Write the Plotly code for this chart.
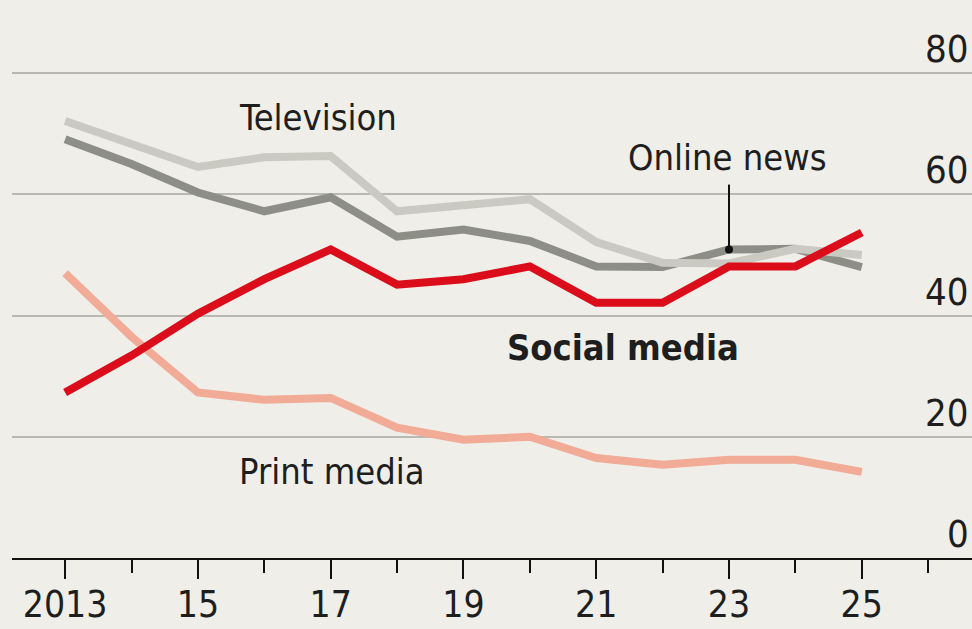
import plotly.graph_objects as go

years = list(range(2013, 2026))
television = [72.1, 68.3, 64.5, 66.1, 66.3, 57.2, 58.3, 59.2, 52.1, 48.7, 48.6, 51.0, 50.0]
online_news = [69.1, 65.0, 60.3, 57.2, 59.5, 53.0, 54.2, 52.3, 48.1, 48.0, 50.9, 51.0, 48.0]
social_media = [27.3, 33.4, 40.3, 46.0, 50.9, 45.1, 46.0, 48.1, 42.1, 42.1, 48.1, 48.1, 53.7]
print_media = [47.0, 36.5, 27.3, 26.1, 26.4, 21.5, 19.5, 20.0, 16.5, 15.4, 16.2, 16.2, 14.2]

x_tickvals = [2013, 2015, 2017, 2019, 2021, 2023, 2025]
x_ticktext = ["2013", "15", "17", "19", "21", "23", "25"]
y_tickvals = [0, 20, 40, 60, 80]

FONT = "DejaVu Sans Condensed, Liberation Sans Narrow, Arial Narrow, sans-serif"
BG = "#efeee8"
TXT = "#1e1e1e"

fig = go.Figure()
fig.add_trace(go.Scatter(x=years, y=online_news, mode="lines",
                         line=dict(color="#8d8e86", width=8), hoverinfo="skip"))
fig.add_trace(go.Scatter(x=years, y=television, mode="lines",
                         line=dict(color="#cacac3", width=8), hoverinfo="skip"))
fig.add_trace(go.Scatter(x=years, y=print_media, mode="lines",
                         line=dict(color="#f1ab97", width=8), hoverinfo="skip"))
fig.add_trace(go.Scatter(x=years, y=social_media, mode="lines",
                         line=dict(color="#db0d1b", width=8), hoverinfo="skip"))
# leader dot for Online news at 2023
idx = years.index(2023)
fig.add_trace(go.Scatter(x=[years[idx]], y=[online_news[idx]], mode="markers",
                         marker=dict(color="#111111", size=8), hoverinfo="skip"))
fig.add_shape(type="line", xref="x", yref="y", x0=2023, x1=2023,
              y0=61.6, y1=online_news[idx], line=dict(color="#111111", width=2))

ann_font = dict(family=FONT, size=36, color=TXT)
fig.add_annotation(x=2016.81, y=72.6, text="Television", showarrow=False,
                   font=ann_font, xanchor="center", yanchor="middle")
fig.add_annotation(x=2022.98, y=66.1, text="Online news", showarrow=False,
                   font=ann_font, xanchor="center", yanchor="middle")
fig.add_annotation(x=2021.4, y=34.7, text="<b>Social media</b>", showarrow=False,
                   font=ann_font, xanchor="center", yanchor="middle")
fig.add_annotation(x=2017.02, y=14.2, text="Print media", showarrow=False,
                   font=ann_font, xanchor="center", yanchor="middle")

# y-axis value labels sitting above the gridlines at the right edge
for v in y_tickvals:
    fig.add_annotation(x=1, xref="paper", y=v, yref="y", text=str(v),
                       showarrow=False, xanchor="right", yanchor="bottom",
                       xshift=-1, yshift=0,
                       font=dict(family=FONT, size=38, color=TXT))

fig.update_layout(
    width=972, height=629,
    paper_bgcolor=BG, plot_bgcolor=BG,
    showlegend=False,
    margin=dict(l=12, r=0, t=67, b=71, autoexpand=False),
    font=dict(family=FONT, color=TXT),
)
fig.update_xaxes(
    range=[2012.2, 2026.66], automargin=False,
    tickvals=x_tickvals, ticktext=x_ticktext,
    showgrid=False, zeroline=False,
    showline=True, linecolor="#111111", linewidth=2,
    ticks="outside", ticklen=19, tickwidth=2, tickcolor="#111111",
    ticklabelstandoff=-6,
    minor=dict(dtick=1, tick0=2013, ticks="outside", ticklen=13,
               tickwidth=2, tickcolor="#111111", showgrid=False),
    tickfont=dict(family=FONT, size=37, color=TXT),
)
fig.update_yaxes(
    range=[0, 81], side="right", automargin=False,
    tickvals=y_tickvals, showticklabels=False,
    showgrid=True, gridcolor="#b9b9b2", gridwidth=1.5,
    zeroline=False, showline=False, ticks="",
)

fig.write_html(
    "out.html",
    config={"displayModeBar": False},
    post_script="document.body.style.margin='0';document.body.style.overflow='hidden';"
                "document.body.style.background='#efeee8';",
)
